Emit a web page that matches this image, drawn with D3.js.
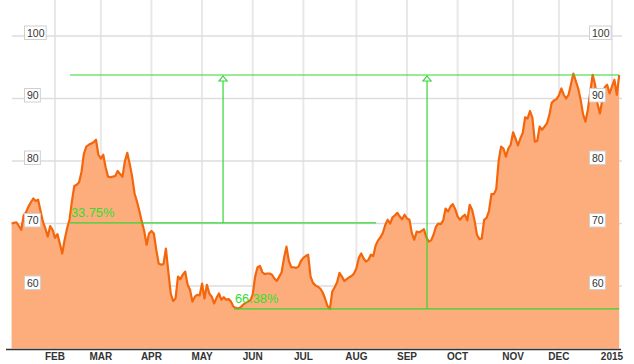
<!DOCTYPE html>
<html>
<head>
<meta charset="utf-8">
<script src="https://cdn.jsdelivr.net/npm/d3@7/dist/d3.min.js"></script>
<style>
  body { margin: 0; background: #fff; }
  text { font-family: Arial, "Liberation Sans", sans-serif; }
</style>
</head>
<body>
<script>
// one close per trading day, from early Jan 2014 to early Jan 2015
var closes = [70.0, 70.1, 70.2, 69.6, 69.0, 71.3, 71.8, 72.7, 73.4, 74.0,
  73.6, 73.8, 72.0, 70.3, 69.2, 67.9, 69.6, 69.0, 67.7, 68.3,
  66.8, 65.2, 67.4, 69.2, 70.6, 73.5, 76.0, 76.2, 76.6, 78.3,
  81.2, 82.3, 82.6, 82.8, 83.0, 83.4, 81.0, 80.4, 81.0, 79.0,
  77.5, 77.4, 77.5, 77.6, 78.4, 77.9, 77.5, 80.0, 81.3, 79.5,
  77.5, 74.8, 73.5, 72.0, 70.3, 68.8, 66.6, 68.4, 68.8, 68.4,
  65.8, 63.6, 63.4, 63.5, 66.0, 62.3, 58.8, 57.6, 58.0, 61.5,
  61.1, 61.8, 62.3, 60.2, 59.4, 57.5, 58.3, 58.6, 58.5, 60.4,
  58.0, 60.2, 58.8, 58.3, 57.2, 58.1, 58.8, 57.8, 58.2, 57.8,
  57.9, 57.5, 56.7, 56.5, 56.4, 56.6, 57.0, 57.3, 57.5, 57.7,
  58.6, 61.5, 63.0, 63.2, 62.2, 61.9, 62.0, 62.0, 61.8, 61.2,
  60.8, 61.5, 62.2, 64.5, 66.3, 64.0, 63.0, 63.0, 62.9, 63.1,
  64.0, 64.5, 64.8, 65.0, 61.5, 60.5, 60.1, 59.9, 59.6, 59.0,
  58.0, 56.8, 56.35, 59.1, 59.8, 60.6, 62.1, 61.5, 60.8, 61.1,
  61.4, 61.6, 62.0, 62.8, 64.5, 65.2, 64.4, 63.9, 64.2, 65.0,
  64.8, 66.5, 67.3, 67.8, 68.5, 69.8, 70.6, 70.0, 71.0, 71.3,
  71.7, 71.1, 70.7, 71.4, 70.8, 70.6, 68.5, 67.4, 68.7, 68.6,
  68.8, 69.1, 67.8, 67.1, 67.3, 68.2, 69.5, 70.0, 69.9, 70.5,
  72.4, 71.9, 72.7, 73.1, 72.3, 71.1, 70.6, 71.1, 71.4, 70.5,
  73.0, 72.2, 70.5, 68.2, 67.5, 67.6, 70.6, 70.9, 72.0, 74.7,
  74.7, 75.5, 80.0, 82.3, 82.0, 80.7, 82.0, 82.6, 84.6, 83.6,
  82.5, 83.6, 84.5, 87.0, 86.8, 88.0, 86.9, 83.1, 83.2, 85.5,
  85.0, 85.5, 86.0, 87.3, 89.3, 89.7, 89.9, 90.5, 91.6, 90.6,
  90.0, 90.6, 92.3, 94.0, 92.8, 91.6, 89.8, 87.5, 86.3, 88.2,
  91.1, 93.8, 92.2, 89.2, 87.6, 89.8, 91.8, 92.2, 90.8, 91.9,
  93.0, 90.6, 93.76];

// first trading day of each month, as trading-day index
var monthDays = [18, 37, 58, 79, 100, 121, 143, 164, 185, 208, 227, 249];
var monthLabels = ["FEB", "MAR", "APR", "MAY", "JUN", "JUL", "AUG", "SEP", "OCT", "NOV", "DEC", "2015"];
var yTicks = [60, 70, 80, 90, 100];

// measure tool: two lows measured up to the same high
var measureHigh = 93.76;
var measureLows = [70.1, 56.35];
var measureFrom = [24.2, 92.2];
var measureTo = [151.2, 252];
var measureArrow = [87.7, 172.3];
var measureLabels = ["33.75%", "66.38%"];

var w = 634;
var h = 364;

var svg = d3.select("body").append("svg")
  .attr("width", w)
  .attr("height", h);

var x = d3.scaleLinear().domain([0, closes.length - 1]).range([11.6, 619.2]);
var y = d3.scaleLinear().domain([50, 100]).range([348.5, 36]);

// vertical grid
svg.selectAll("line.vgrid")
  .data(monthDays)
  .enter()
  .append("line")
  .attr("class", "vgrid")
  .attr("x1", function(d) { return x(d); })
  .attr("x2", function(d) { return x(d); })
  .attr("y1", 0)
  .attr("y2", 349)
  .attr("stroke", "#e8e8e8")
  .attr("stroke-width", 2);

// horizontal grid
svg.selectAll("line.hgrid")
  .data(yTicks)
  .enter()
  .append("line")
  .attr("class", "hgrid")
  .attr("x1", 12)
  .attr("x2", 622)
  .attr("y1", function(d) { return y(d); })
  .attr("y2", function(d) { return y(d); })
  .attr("stroke", "#dddddd")
  .attr("stroke-width", 1.5);

var area = d3.area()
  .x(function(d, i) { return x(i); })
  .y0(y(50))
  .y1(function(d) { return y(d); });

var line = d3.line()
  .x(function(d, i) { return x(i); })
  .y(function(d) { return y(d); });

svg.append("path")
  .datum(closes)
  .attr("d", area)
  .attr("fill", "#fdac7c");

svg.append("path")
  .datum(closes)
  .attr("d", line)
  .attr("fill", "none")
  .attr("stroke", "#f4660c")
  .attr("stroke-width", 2.2)
  .attr("stroke-linejoin", "round");

// measure lines
var green = "#33d633";
var g = svg.append("g");

g.append("line")
  .attr("x1", x(d3.min(measureFrom)))
  .attr("x2", x(d3.max(measureTo)))
  .attr("y1", y(measureHigh))
  .attr("y2", y(measureHigh))
  .attr("stroke", green)
  .attr("stroke-width", 1.2);

g.selectAll("line.low")
  .data(measureLows)
  .enter()
  .append("line")
  .attr("class", "low")
  .attr("x1", function(d, i) { return x(measureFrom[i]); })
  .attr("x2", function(d, i) { return x(measureTo[i]); })
  .attr("y1", function(d) { return y(d); })
  .attr("y2", function(d) { return y(d); })
  .attr("stroke", green)
  .attr("stroke-width", 1.2);

g.selectAll("line.arrow")
  .data(measureLows)
  .enter()
  .append("line")
  .attr("class", "arrow")
  .attr("x1", function(d, i) { return x(measureArrow[i]); })
  .attr("x2", function(d, i) { return x(measureArrow[i]); })
  .attr("y1", function(d) { return y(d); })
  .attr("y2", y(measureHigh) + 5)
  .attr("stroke", green)
  .attr("stroke-width", 1.2);

g.selectAll("path.head")
  .data(measureArrow)
  .enter()
  .append("path")
  .attr("class", "head")
  .attr("d", function(d) {
    var cx = x(d), top = y(measureHigh) + 1;
    return "M" + cx + "," + top + "L" + (cx + 4) + "," + (top + 5) + "L" + (cx - 4) + "," + (top + 5) + "Z";
  })
  .attr("fill", "#fff")
  .attr("stroke", green)
  .attr("stroke-width", 1.2);

g.selectAll("text.pct")
  .data(measureLabels)
  .enter()
  .append("text")
  .attr("class", "pct")
  .attr("x", function(d, i) { return x(measureFrom[i]) + 1; })
  .attr("y", function(d, i) { return y(measureLows[i]) - 6; })
  .attr("font-size", "12.8px")
  .attr("fill", "#2ee02e")
  .text(function(d) { return d; });

// y labels in boxes, both sides
[25, 590].forEach(function(left) {
  var lab = svg.selectAll(null)
    .data(yTicks)
    .enter()
    .append("g")
    .attr("transform", function(d) { return "translate(" + left + "," + y(d) + ")"; });
  lab.append("text")
    .attr("x", 2)
    .attr("y", 0)
    .attr("font-size", "10.5px")
    .attr("fill", "#333")
    .text(function(d) { return d; })
    .each(function() {
      var b = this.getBBox();
      d3.select(this.parentNode).insert("rect", "text")
        .attr("x", -0.5)
        .attr("y", -10)
        .attr("width", b.width + 4)
        .attr("height", 13.5)
        .attr("fill", "#fff")
        .attr("stroke", "#d0d0d0")
        .attr("stroke-width", 1);
    })
    .attr("dy", "0.05em");
});

// x axis
svg.append("line")
  .attr("x1", 6)
  .attr("x2", 621)
  .attr("y1", 349.5)
  .attr("y2", 349.5)
  .attr("stroke", "#333")
  .attr("stroke-width", 1.5);

svg.selectAll("text.month")
  .data(monthLabels)
  .enter()
  .append("text")
  .attr("class", "month")
  .attr("x", function(d, i) { return x(monthDays[i]); })
  .attr("y", 360)
  .attr("text-anchor", "middle")
  .attr("font-size", "10px")
  .attr("font-weight", "bold")
  .attr("fill", "#333")
  .text(function(d) { return d; });
</script>
</body>
</html>
